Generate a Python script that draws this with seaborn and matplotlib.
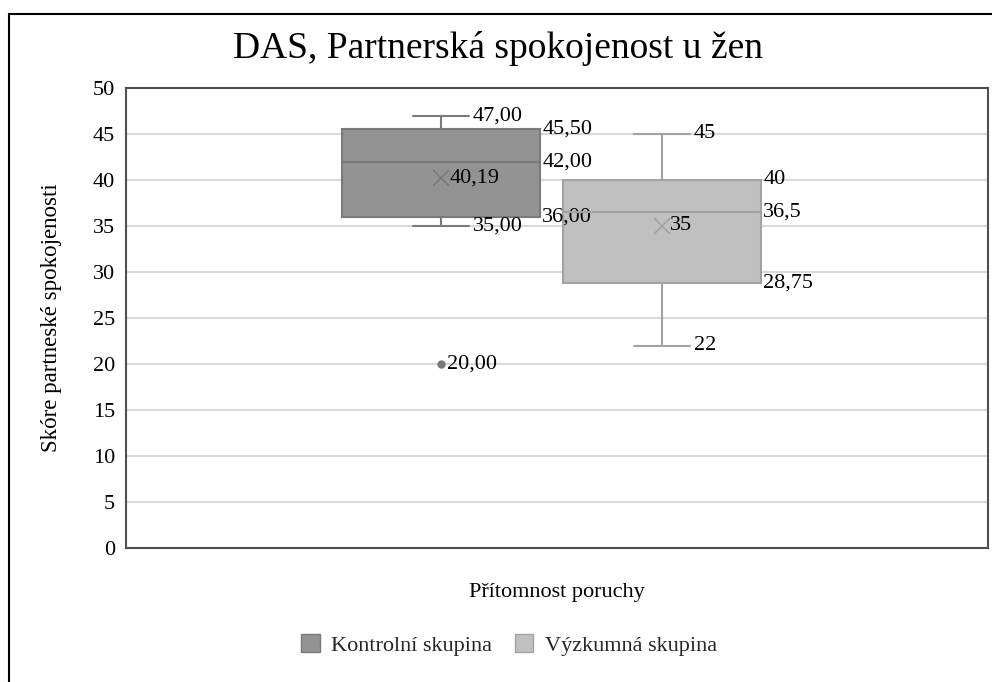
import matplotlib
matplotlib.use("Agg")
import matplotlib.pyplot as plt
from matplotlib.patches import Patch, Rectangle
import seaborn as sns

# data
groups = ["Kontrolní skupina", "Výzkumná skupina"]
whis_hi = [47.00, 45]
q3 = [45.50, 40]
median = [42.00, 36.5]
mean = [40.19, 35]
q1 = [36.00, 28.75]
whis_lo = [35.00, 22]
outliers = [[20.00], []]

# labels as printed in the chart
lbl_hi = ["47,00", "45"]
lbl_q3 = ["45,50", "40"]
lbl_med = ["42,00", "36,5"]
lbl_mean = ["40,19", "35"]
lbl_q1 = ["36,00", "28,75"]
lbl_lo = ["35,00", "22"]
lbl_out = [["20,00"], []]

fills = ["#939393", "#c0c0c0"]
edges = ["#7a7a7a", "#a3a3a3"]

sns.set_theme(style="whitegrid")
plt.rcParams["font.family"] = ["Liberation Serif", "DejaVu Serif"]

fig = plt.figure(figsize=(9.92, 6.82), dpi=100)
ax = fig.add_axes([126 / 992, 1 - 548 / 682, 862 / 992, 460 / 682])

positions = [-0.1346, 0.1218]
box_w = 0.23
cap_w = 0.064

stats = []
for i in range(len(groups)):
    stats.append(dict(med=median[i], q1=q1[i], q3=q3[i], whislo=whis_lo[i],
                      whishi=whis_hi[i], mean=mean[i], fliers=outliers[i]))

for i, st in enumerate(stats):
    ax.bxp([st], positions=[positions[i]], widths=box_w, capwidths=cap_w,
           showmeans=True, patch_artist=True,
           boxprops=dict(facecolor=fills[i], edgecolor=edges[i], linewidth=1.5),
           medianprops=dict(color=edges[i], linewidth=1.5),
           whiskerprops=dict(color=edges[i], linewidth=1.5),
           capprops=dict(color=edges[i], linewidth=1.5),
           meanprops=dict(marker="x", markeredgecolor=edges[i], markersize=12,
                          markeredgewidth=1.2),
           flierprops=dict(marker="o", markerfacecolor=edges[i],
                           markeredgecolor=edges[i], markersize=5),
           zorder=3)

lab_fs = 16
for i in range(len(groups)):
    x = positions[i]
    cap_r = x + cap_w / 2
    box_r = x + box_w / 2
    for val, txt in [(whis_hi[i], lbl_hi[i]), (whis_lo[i], lbl_lo[i])]:
        ax.annotate(txt, (cap_r, val), xytext=(3, 0), textcoords="offset points",
                    va="center", ha="left", fontsize=lab_fs, color="black")
    for val, txt in [(q3[i], lbl_q3[i]), (median[i], lbl_med[i]), (q1[i], lbl_q1[i])]:
        ax.annotate(txt, (box_r, val), xytext=(1.5, 0), textcoords="offset points",
                    va="center", ha="left", fontsize=lab_fs, color="black")
    ax.annotate(lbl_mean[i], (x, mean[i]), xytext=(6, 0), textcoords="offset points",
                va="center", ha="left", fontsize=lab_fs, color="black")
    for val, txt in zip(outliers[i], lbl_out[i]):
        ax.annotate(txt, (x, val), xytext=(4, 0), textcoords="offset points",
                    va="center", ha="left", fontsize=lab_fs, color="black")

ax.set_xlim(-0.5, 0.5)
ax.set_ylim(0, 50)
ax.set_yticks(range(0, 51, 5))
ax.set_xticks([])
ax.tick_params(axis="y", labelsize=16, pad=8, length=0, colors="black")
ax.grid(axis="y", color="#d9d9d9", linewidth=1.5)
ax.grid(axis="x", visible=False)
ax.set_axisbelow(True)
for sp in ax.spines.values():
    sp.set_color("#505050")
    sp.set_linewidth(1.5)

ax.set_ylabel("Skóre partneské spokojenosti", fontsize=16.5, color="black", labelpad=22)
fig.text(557 / 992, 1 - 593 / 682, "Přítomnost poruchy", ha="center", va="center",
         fontsize=16, color="black")
fig.text(498 / 992, 1 - 48 / 682, "DAS, Partnerská spokojenost u žen", ha="center",
         va="center", fontsize=27, color="black")

handles = [Patch(facecolor=fills[i], edgecolor=edges[i], linewidth=1.0) for i in range(len(groups))]
fig.legend(handles, groups, loc="center", bbox_to_anchor=(509 / 992, 1 - 645 / 682),
           ncol=2, frameon=False, fontsize=16, handlelength=0.85, handleheight=0.85,
           handletextpad=0.5, columnspacing=1.0)

fig.patches.append(Rectangle((9 / 992, -0.1), 2, 1 - 14 / 682 + 0.1, transform=fig.transFigure,
                             fill=False, edgecolor="black", linewidth=1.5, figure=fig))

fig.savefig("out.png", dpi=100, facecolor="white")
